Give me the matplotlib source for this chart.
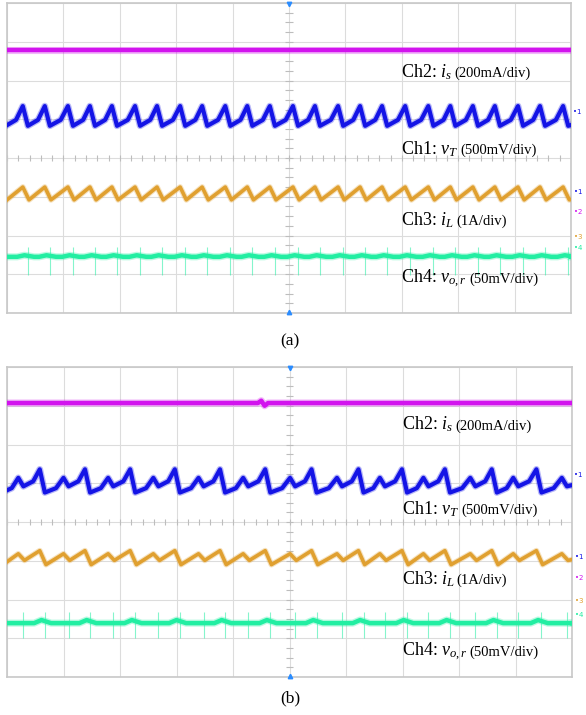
import numpy as np
import matplotlib.pyplot as plt

# ---------------- FONTS ----------------
plt.rcParams["font.family"] = "Liberation Serif"
plt.rcParams["mathtext.fontset"] = "custom"
plt.rcParams["mathtext.rm"] = "Liberation Serif"
plt.rcParams["mathtext.it"] = "Liberation Serif:italic"

# ---------------- DATA (scope divisions: x 0..10, y -4..4) ----------------

labels = [r"Ch2: $i_s$", r"Ch1: $v_T$", r"Ch3: $i_L$", r"Ch4: $v_{o,r}$"]
scales = ["(200mA/div)", "(500mV/div)", "(1A/div)", "(50mV/div)"]

colors = {
    "ch1": "#1414e6",
    "ch2": "#d214ee",
    "ch3": "#e0a030",
    "ch4": "#22eea2",
}

# ---- panel (a) ----
peak_t_a = [0.28, 0.67, 1.08, 1.47, 1.86, 2.27, 2.66, 3.07, 3.46, 3.87,
            4.26, 4.66, 5.07, 5.46, 5.87, 6.26, 6.65, 7.06, 7.47, 7.86,
            8.26, 8.65, 9.06, 9.45, 9.86]
ch1_peak_a = 1.34
ch1_trough_a = 0.83
ch3_peak_a = -0.75
ch3_trough_a = -1.08
ch2_t_a = [0.0, 10.0]
ch2_lv_a = [2.79, 2.79]
ch4_base_a = -2.55
ch4_bump_a = 0.04
ch4_spike_a = (-3.02, -2.30)
label_y_a = [2.09, 0.10, -1.73, -3.23]
marker_y_a = [-0.88, -1.39, -2.04, -2.32]
ch1_ref_a = 1.19

# ---- panel (b) ----
peak_t_b = [0.20, 0.58, 1.00, 1.38, 1.79, 2.18, 2.59, 2.97, 3.39, 3.77,
            4.18, 4.57, 5.01, 5.39, 5.84, 6.22, 6.60, 6.99, 7.37, 7.75,
            8.20, 8.58, 8.96, 9.37, 9.82]
ch1_peak_b = [1.14, 1.36, 1.14, 1.36, 1.14, 1.36, 1.14, 1.36, 1.14, 1.36,
              1.14, 1.36, 1.14, 1.36, 1.14, 1.36, 1.14, 1.36, 1.14, 1.36,
              1.14, 1.36, 1.14, 1.36, 1.14]
ch1_trough_b = [0.92, 0.76, 0.92, 0.76, 0.92, 0.76, 0.92, 0.76, 0.92, 0.76,
                0.92, 0.76, 0.92, 0.76, 0.92, 0.76, 0.92, 0.76, 0.92, 0.76,
                0.92, 0.76, 0.92, 0.76, 0.92]
ch3_peak_b = [-0.82, -0.74, -0.82, -0.74, -0.82, -0.74, -0.82, -0.74, -0.82, -0.74,
              -0.82, -0.74, -0.82, -0.74, -0.82, -0.74, -0.82, -0.74, -0.82, -0.74,
              -0.82, -0.74, -0.82, -0.74, -0.82]
ch3_trough_b = [-0.99, -1.10, -0.99, -1.10, -0.99, -1.10, -0.99, -1.10, -0.99, -1.10,
                -0.99, -1.10, -0.99, -1.10, -0.99, -1.10, -0.99, -1.10, -0.99, -1.10,
                -0.99, -1.10, -0.99, -1.10, -0.99]
ch2_t_b = [0.0, 4.44, 4.50, 4.56, 4.62, 10.0]
ch2_lv_b = [3.07, 3.07, 3.13, 3.00, 3.07, 3.07]
ch4_base_b = -2.61
ch4_bump_b = [0.0, 0.08, 0.0, 0.08, 0.0, 0.08, 0.0, 0.08, 0.0, 0.08,
              0.0, 0.08, 0.0, 0.08, 0.0, 0.08, 0.0, 0.08, 0.0, 0.08,
              0.0, 0.08, 0.0, 0.08, 0.0]
ch4_spike_b = (-3.00, -2.32)
label_y_b = [2.38, 0.20, -1.60, -3.45]
marker_y_b = [-0.90, -1.45, -2.04, -2.40]
ch1_ref_b = 1.21

# rise shape of Ch1 (fraction of time, fraction of amplitude)
ch1_shape = [(0.6, 0.3)]
ch3_shape = []


# ---------------- HELPERS ----------------

def saw(peak_t, peak_lv, trough_lv, fall, shape, start_lv, end_lv):
    peak_t = np.asarray(peak_t, dtype=float)
    peak_lv = np.broadcast_to(peak_lv, peak_t.shape)
    trough_lv = np.broadcast_to(trough_lv, peak_t.shape)
    t0 = peak_t[0] - (peak_t[1] - peak_t[0] - fall)
    l0 = start_lv
    xs, ys = [t0], [l0]
    for tp, lp, lt in zip(peak_t, peak_lv, trough_lv):
        for f, g in shape:
            xs.append(t0 + f * (tp - t0))
            ys.append(l0 + g * (lp - l0))
        xs += [tp, tp + fall]
        ys += [lp, lt]
        t0, l0 = tp + fall, lt
    xs.append(10.2)
    ys.append(end_lv)
    return xs, ys


def trace(ax, x, y, color, lw):
    ax.plot(x, y, color=color, lw=lw * 1.6, alpha=0.3, zorder=3)
    ax.plot(x, y, color=color, lw=lw, zorder=4)


def draw_panel(ax, peak_t, c1p, c1t, c3p, c3t, c2t, c2l,
               c4base, c4bump, c4spike, label_y, marker_y, ch1_ref,
               c1_start, c3_start):

    ax.set_xlim(0, 10)
    ax.set_ylim(-4, 4)

    # grid 10 x 8
    ax.set_xticks(range(11))
    ax.set_yticks(range(-4, 5))
    ax.grid(color="#dcdcdc", lw=0.8)
    ax.tick_params(length=0, labelbottom=False, labelleft=False)
    for spine in ax.spines.values():
        spine.set_color("#c8c8c8")
        spine.set_linewidth(1.2)

    # center cross minor ticks
    ax.vlines(np.arange(0, 10.01, 0.2), -0.07, 0.07, color="#bdbdbd", lw=0.8)
    ax.hlines(np.arange(-4, 4.01, 0.25), 4.93, 5.07, color="#bdbdbd", lw=0.8)

    # trigger markers
    ax.plot(5, 3.97, marker="v", ms=3.2, color="#2a8cff", clip_on=False, zorder=6)
    ax.plot(5, -3.97, marker="^", ms=3.2, color="#2a8cff", clip_on=False, zorder=6)

    # Ch2 (flat)
    trace(ax, c2t, c2l, colors["ch2"], 3.2)

    # Ch1
    x, y = saw(peak_t, c1p, c1t, 0.09, ch1_shape, c1_start, np.ravel(c1t)[-1] + 0.1)
    trace(ax, x, y, colors["ch1"], 3.0)

    # Ch3
    x, y = saw(peak_t, c3p, c3t, 0.11, ch3_shape, c3_start, np.ravel(c3t)[-1] + 0.08)
    trace(ax, x, y, colors["ch3"], 2.6)

    # Ch4 with switching spikes
    pt = np.asarray(peak_t)
    bump = np.broadcast_to(c4bump, pt.shape)
    gx, gy = [0.0], [c4base]
    for tp, b in zip(pt, bump):
        gx += [tp - 0.1, tp + 0.03, tp + 0.2]
        gy += [c4base, c4base + b, c4base]
    gx.append(10.0)
    gy.append(c4base)
    ax.vlines(pt + 0.09, c4spike[0], c4spike[1], color=colors["ch4"],
              lw=0.8, alpha=0.55, zorder=3)
    trace(ax, gx, gy, colors["ch4"], 3.2)

    # channel markers on the right
    tr = ax.get_yaxis_transform()
    ax.text(1.004, ch1_ref, "\u20221", transform=tr, color=colors["ch1"],
            fontsize=5, va="center", clip_on=False, family="DejaVu Sans")
    for y_m, key, n in zip(marker_y, ["ch1", "ch2", "ch3", "ch4"], "1234"):
        ax.text(1.005, y_m, "\u2022" + n, transform=tr, color=colors[key],
                fontsize=5, va="center", clip_on=False, family="DejaVu Sans")

    # labels
    texts = []
    for lab, y_l in zip(labels, label_y):
        t = ax.text(6.99, y_l, lab, fontsize=13, va="baseline", zorder=7)
        texts.append(t)
    return texts


# ---------------- FIGURE ----------------

fig = plt.figure(figsize=(5.86, 7.15), dpi=100)
fig.patch.set_facecolor("white")

ax_a = fig.add_axes([7 / 586, 1 - 313 / 715, 564 / 586, 310 / 715])
ax_b = fig.add_axes([7 / 586, 1 - 677 / 715, 565 / 586, 310 / 715])

texts_a = draw_panel(ax_a, peak_t_a, ch1_peak_a, ch1_trough_a, ch3_peak_a,
                     ch3_trough_a, ch2_t_a, ch2_lv_a, ch4_base_a, ch4_bump_a,
                     ch4_spike_a, label_y_a, marker_y_a, ch1_ref_a, 0.83, -1.08)
texts_b = draw_panel(ax_b, peak_t_b, ch1_peak_b, ch1_trough_b, ch3_peak_b,
                     ch3_trough_b, ch2_t_b, ch2_lv_b, ch4_base_b, ch4_bump_b,
                     ch4_spike_b, label_y_b, marker_y_b, ch1_ref_b, 0.76, -1.10)

# scale texts after each label
fig.canvas.draw()
renderer = fig.canvas.get_renderer()
for ax, texts, label_y in [(ax_a, texts_a, label_y_a), (ax_b, texts_b, label_y_b)]:
    inv = ax.transData.inverted()
    for t, s, y_l in zip(texts, scales, label_y):
        bb = t.get_window_extent(renderer)
        x_d = inv.transform((bb.x1 + 2, 0))[0]
        ax.text(x_d, y_l, s, fontsize=10.5, va="baseline", zorder=7)

# captions
fig.text(290 / 586, 1 - 341 / 715, "(a)", ha="center", va="center", fontsize=12.5)
fig.text(290 / 586, 1 - 698 / 715, "(b)", ha="center", va="center", fontsize=12.5)

plt.savefig("out.png", dpi=100)
